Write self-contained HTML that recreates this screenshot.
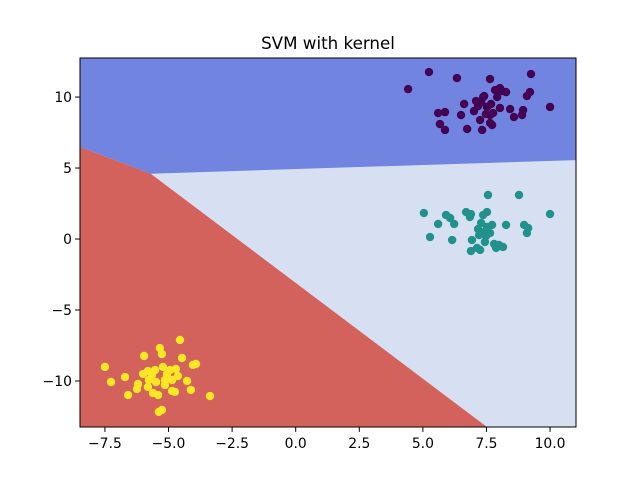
<!DOCTYPE html>
<html><head><meta charset="utf-8"><style>body{margin:0;background:#fff}svg{display:block;font-family:"DejaVu Sans","Liberation Sans",sans-serif}</style></head>
<body>
<svg id="c" width="640" height="480"></svg>
<script>
const xDomain=[-8.48,11.02], yDomain=[-13.24,12.75];
const xTicks=[-7.5,-5.0,-2.5,0.0,2.5,5.0,7.5,10.0];
const xTickLabels=["−7.5","−5.0","−2.5","0.0","2.5","5.0","7.5","10.0"];
const yTicks=[-10,-5,0,5,10];
const yTickLabels=["−10","−5","0","5","10"];
const blueRegion=[[-8.48,12.75],[11.02,12.75],[11.02,5.56],[-5.7,4.6],[-8.48,6.48]];
const redRegion=[[-8.48,6.48],[-5.7,4.6],[7.52,-13.24],[-8.48,-13.24]];
const c0x=[4.42,5.24,6.34,7.64,9.25,5.60,5.87,5.67,5.87,6.50,6.62,6.74,7.09,7.29,7.37,7.41,7.52,7.64,7.68,7.33,7.64,7.72,7.84,8.03,8.11,7.92,8.03,8.27,8.43,8.58,8.90,8.94,9.09,9.21,10.0,7.48,7.76,7.17,7.01,7.25];
const c0y=[10.56,11.76,11.34,11.27,11.62,8.87,8.94,8.10,7.68,8.73,9.51,7.75,9.72,9.65,10.0,10.07,9.30,8.73,9.51,7.68,8.17,8.03,10.49,10.63,10.42,10.0,9.23,10.35,9.15,8.59,8.73,9.08,10.07,10.35,9.30,8.80,8.87,9.37,9.01,8.38];
const c1x=[5.04,5.28,5.60,5.91,6.07,6.23,6.15,6.70,6.89,6.85,6.93,7.13,7.25,7.56,7.52,7.37,7.29,7.17,7.33,7.41,7.52,7.72,7.80,7.88,7.99,8.15,8.27,8.78,8.98,9.14,9.09,10.0,7.48,7.64,6.89,7.21,7.44];
const c1y=[1.83,0.14,1.06,1.69,1.48,1.06,-0.07,1.90,1.76,1.55,-0.07,-0.63,-0.77,3.10,1.90,1.69,1.13,0.70,0.42,0.49,0.85,0.99,-0.35,-0.63,-0.42,-0.56,0.99,3.10,0.99,0.77,0.42,1.76,0.21,0.42,-0.85,0.28,-0.21];
const c2x=[-7.50,-7.26,-6.71,-6.59,-6.24,-6.20,-6.00,-5.96,-5.81,-5.77,-5.65,-5.61,-5.53,-5.41,-5.38,-5.26,-5.34,-5.26,-5.22,-5.14,-5.14,-4.94,-4.86,-4.75,-4.71,-4.63,-4.55,-4.47,-4.27,-4.12,-4.04,-3.92,-3.37,-5.49,-5.06,-4.86,-5.81];
const c2y=[-9.01,-10.07,-9.72,-10.99,-10.56,-10.21,-9.51,-8.24,-10.42,-9.93,-9.58,-10.85,-9.23,-10.99,-12.18,-12.04,-7.68,-8.10,-9.01,-9.93,-10.28,-9.23,-9.93,-10.77,-9.15,-9.65,-7.11,-8.38,-10.0,-10.63,-8.87,-8.80,-11.06,-10.07,-9.51,-10.70,-9.30];
const L=80,R=576,T=58,B=427;
const X=v=>L+(v-xDomain[0])/(xDomain[1]-xDomain[0])*(R-L);
const Y=v=>B-(v-yDomain[0])/(yDomain[1]-yDomain[0])*(B-T);
const svg=document.getElementById('c');const NS='http://www.w3.org/2000/svg';
function mk(t,a,p){const e=document.createElementNS(NS,t);for(const k in a)e.setAttribute(k,a[k]);(p||svg).appendChild(e);return e;}
let e=mk('rect',{x:L,y:T,width:R-L,height:B-T,fill:'#d7e0f2'});


e=mk('polygon',{points:blueRegion.map(p=>X(p[0])+','+Y(p[1])).join(' '),fill:'#7084e0'});


e=mk('polygon',{points:redRegion.map(p=>X(p[0])+','+Y(p[1])).join(' '),fill:'#d4625c'});


[[c0x,c0y,'#440154','class-0'],[c1x,c1y,'#21918c','class-1'],[c2x,c2y,'#fde725','class-2']].forEach(s=>{
 s[0].forEach((v,i)=>{const p=mk('circle',{cx:X(v),cy:Y(s[1][i]),r:4.2,fill:s[2]});
 
 });
});
e=mk('rect',{x:L,y:T,width:R-L,height:B-T,fill:'none',stroke:'#000','stroke-width':1});


xTicks.forEach((v,i)=>{mk('line',{x1:X(v),x2:X(v),y1:B,y2:B+4.9,stroke:'#000'});
 const t=mk('text',{x:X(v),y:B+21,'text-anchor':'middle','font-size':13.9});t.textContent=xTickLabels[i];
 
 });
yTicks.forEach((v,i)=>{mk('line',{x1:L-4.9,x2:L,y1:Y(v),y2:Y(v),stroke:'#000'});
 const t=mk('text',{x:L-8,y:Y(v)+5,'text-anchor':'end','font-size':13.9});t.textContent=yTickLabels[i];
 
 });
const tt=mk('text',{x:328,y:49,'text-anchor':'middle','font-size':16.7});tt.textContent='SVM with kernel';


</script>
</body></html>
